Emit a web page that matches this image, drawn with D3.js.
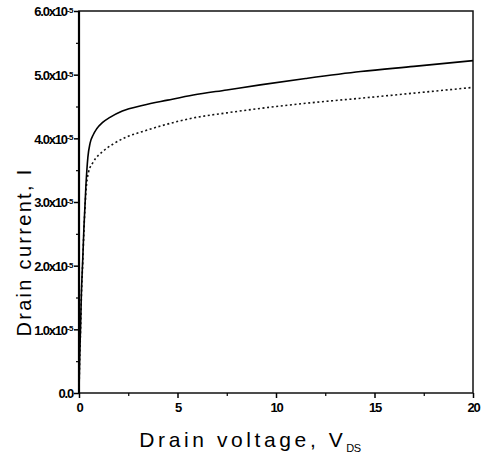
<!DOCTYPE html>
<html><head><meta charset="utf-8">
<script src="https://cdn.jsdelivr.net/npm/d3@7"></script>
<style>
html,body{margin:0;padding:0;background:#fff;}
svg{display:block;}
</style></head>
<body>
<svg id="chart" width="488" height="465"></svg>
<script>
// ---- data ----
const vSolid = [0, 0.03, 0.08, 0.12, 0.19, 0.25, 0.35, 0.45, 0.56, 0.73, 0.9, 1.2, 1.57, 2.2, 3.26, 4.5, 5.8, 7.5, 9.2, 11.5, 14.3, 17, 20];
const iSolid = [0, 5, 10.5, 15.5, 21, 26, 32.5, 37, 39.2, 40.6, 41.5, 42.5, 43.3, 44.3, 45.2, 46.0, 46.8, 47.6, 48.4, 49.4, 50.5, 51.3, 52.2];
const vDotted = [0, 0.03, 0.08, 0.12, 0.19, 0.25, 0.35, 0.47, 0.73, 1.23, 1.73, 2.4, 3.26, 4.1, 5.8, 7.5, 9.2, 11.5, 14.3, 17, 20];
const iDotted = [0, 4.5, 10, 15, 20.5, 25.5, 31.5, 34.5, 36.3, 38.0, 39.1, 40.2, 41.1, 41.9, 43.2, 44.0, 44.7, 45.5, 46.3, 47.1, 48.0];
const xTicks = [0, 5, 10, 15, 20];
const xTickLabels = ["0", "5", "10", "15", "20"];
const yTicks = [0, 10, 20, 30, 40, 50, 60];
const yTickMain = ["0.0", "1.0x10", "2.0x10", "3.0x10", "4.0x10", "5.0x10", "6.0x10"];
const yTickSup = ["", "-5", "-5", "-5", "-5", "-5", "-5"];
const xTitle = "Drain voltage, V";
const xTitleSub = "DS";
const yTitle = "Drain current, I";

// ---- layout ----
const svg = d3.select("#chart");
const L = 79, R = 473, T = 11, B = 393;
const x = d3.scaleLinear().domain([0, 20]).range([L, R]);
const y = d3.scaleLinear().domain([0, 60]).range([B, T]);
const tickFont = "'Liberation Sans Narrow','Arial Narrow','Liberation Sans',sans-serif";

// frame
svg.append("rect").attr("x", L).attr("y", T).attr("width", R - L).attr("height", B - T)
  .attr("fill", "none").attr("stroke", "#111").attr("stroke-width", 1.5);
svg.append("line").attr("x1", L).attr("x2", L).attr("y1", T).attr("y2", B)
  .attr("stroke", "#000").attr("stroke-width", 2.2);

// x axis
const xAxis = d3.axisBottom(x).tickValues(xTicks).tickSize(5).tickFormat((d, i) => xTickLabels[i]);
const gx = svg.append("g").attr("transform", `translate(0,${B})`).call(xAxis);
gx.select(".domain").remove();
gx.selectAll(".tick line").attr("stroke", "#000").attr("stroke-width", 1.5);
gx.selectAll(".tick text").attr("font-family", tickFont).attr("font-weight", "bold")
  .attr("font-size", 13).attr("fill", "#000").attr("y", 10).attr("dy", "0.71em").attr("letter-spacing", -1.2);
const xMinor = d3.axisBottom(x).tickValues([2.5, 7.5, 12.5, 17.5]).tickSize(3).tickFormat("");
const gxm = svg.append("g").attr("transform", `translate(0,${B})`).call(xMinor);
gxm.select(".domain").remove();
gxm.selectAll(".tick line").attr("stroke", "#000").attr("stroke-width", 1.2);

// y axis
const yAxis = d3.axisLeft(y).tickValues(yTicks).tickSize(5).tickFormat("");
const gy = svg.append("g").attr("transform", `translate(${L},0)`).call(yAxis);
gy.select(".domain").remove();
gy.selectAll(".tick line").attr("stroke", "#000").attr("stroke-width", 1.5);
gy.selectAll(".tick").append("text")
  .attr("x", -6).attr("dy", "0.38em").attr("text-anchor", "end")
  .attr("font-family", tickFont).attr("font-weight", "bold").attr("font-size", 13)
  .attr("letter-spacing", -1.2).attr("fill", "#000")
  .each(function(d, i) {
    const t = d3.select(this);
    t.append("tspan").text(yTickMain[i]);
    if (yTickSup[i]) t.append("tspan").attr("dy", "-0.45em").attr("font-size", 8).attr("letter-spacing", -0.5).text(yTickSup[i]);
  });
const yMinor = d3.axisLeft(y).tickValues([5, 15, 25, 35, 45, 55]).tickSize(3).tickFormat("");
const gym = svg.append("g").attr("transform", `translate(${L},0)`).call(yMinor);
gym.select(".domain").remove();
gym.selectAll(".tick line").attr("stroke", "#000").attr("stroke-width", 1.2);

// curves
const line = d3.line().x(d => x(d[0])).y(d => y(d[1])).curve(d3.curveMonotoneX);
svg.append("path").datum(vDotted.map((v, i) => [v, iDotted[i]]))
  .attr("d", line).attr("fill", "none").attr("stroke", "#111")
  .attr("stroke-width", 1.6).attr("stroke-dasharray", "2,2.6");
svg.append("path").datum(vSolid.map((v, i) => [v, iSolid[i]]))
  .attr("d", line).attr("fill", "none").attr("stroke", "#000").attr("stroke-width", 1.6);

// titles
const titleFont = "'Liberation Sans',Arial,sans-serif";
const xt = svg.append("text").attr("x", 250).attr("y", 447).attr("text-anchor", "middle")
  .attr("font-family", titleFont).attr("font-size", 21).attr("letter-spacing", 3.6).attr("fill", "#000");
xt.append("tspan").text(xTitle);
xt.append("tspan").attr("dy", 5).attr("font-size", 11).attr("letter-spacing", -0.5).text(xTitleSub);

svg.append("text").attr("transform", "translate(31,252) rotate(-90)").attr("text-anchor", "middle")
  .attr("font-family", titleFont).attr("font-size", 20).attr("letter-spacing", 2.3).attr("fill", "#000")
  .text(yTitle);
</script>
</body></html>
